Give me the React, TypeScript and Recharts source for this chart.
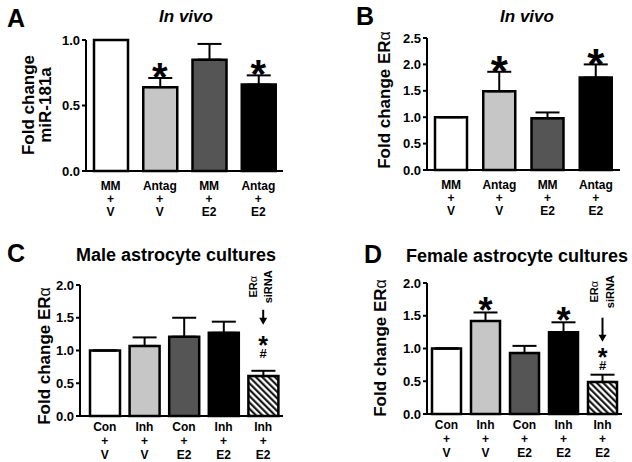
import React from 'react';
import { ComposedChart, Bar, ErrorBar, Scatter, XAxis, YAxis, Cell } from 'recharts';

const FONT = '"Liberation Sans", Arial, sans-serif';

// A: in vivo miR-181a
const groupsA = ['MM', 'Antag', 'MM', 'Antag'];
const treatA = ['V', 'V', 'E2', 'E2'];
const meanA = [1.0, 0.64, 0.85, 0.66];
const semA = [0, 0.07, 0.12, 0.07];
const sigA = ['', '*', '', '*'];
const ticksA = [0, 0.5, 1.0];

// B: in vivo ERa
const groupsB = ['MM', 'Antag', 'MM', 'Antag'];
const treatB = ['V', 'V', 'E2', 'E2'];
const meanB = [1.0, 1.49, 0.98, 1.75];
const semB = [0, 0.37, 0.11, 0.25];
const sigB = ['', '*', '', '*'];
const ticksB = [0, 0.5, 1.0, 1.5, 2.0, 2.5];

// C: male astrocyte cultures
const groupsC = ['Con', 'Inh', 'Con', 'Inh', 'Inh'];
const treatC = ['V', 'V', 'E2', 'E2', 'E2'];
const meanC = [1.0, 1.07, 1.21, 1.27, 0.61];
const semC = [0, 0.13, 0.29, 0.17, 0.08];
const sigC = ['', '', '', '', '*#'];
const ticksC = [0, 0.5, 1.0, 1.5, 2.0];

// D: female astrocyte cultures
const groupsD = ['Con', 'Inh', 'Con', 'Inh', 'Inh'];
const treatD = ['V', 'V', 'E2', 'E2', 'E2'];
const meanD = [1.0, 1.42, 0.93, 1.25, 0.49];
const semD = [0, 0.13, 0.11, 0.15, 0.11];
const sigD = ['', '*', '', '*', '*#'];
const ticksD = [0, 0.5, 1.0, 1.5, 2.0];

const fills = ['#ffffff', '#c6c6c6', '#555555', '#000000', 'url(#hatch)'];

const rowsOf = (groups, treat, mean, sem, sig) =>
  groups.map((g, i) => ({
    key: `${g}|${treat[i]}|${i}`,
    mean: mean[i],
    err: [0, sem[i]],
    top: mean[i] + sem[i],
    sig: sig[i],
  }));

const XTick = ({ x, y, payload, off }) => {
  const [g, t] = String(payload.value).split('|');
  const st = { fontFamily: FONT, fontWeight: 'bold', fontSize: 12, fill: '#000' };
  return (
    <g>
      <text x={x} y={y + off[0]} textAnchor="middle" style={st}>{g}</text>
      <text x={x} y={y + off[1]} textAnchor="middle" style={st}>+</text>
      <text x={x} y={y + off[2]} textAnchor="middle" style={st}>{t}</text>
    </g>
  );
};

const makeMark = (cfg) => (p) => {
  const { cx, cy, payload } = p;
  const s = payload && payload.sig;
  if (!s) return <g />;
  const bold = { fontFamily: FONT, fontWeight: 'bold', fill: '#000' };
  if (s === '*') {
    return (
      <text x={cx} y={cy - cfg.star + 0.575 * cfg.starFs} textAnchor="middle" style={{ ...bold, fontSize: cfg.starFs }}>*</text>
    );
  }
  const tip = cy - cfg.arrowTip;
  const starY = cy - cfg.sStar + 0.575 * 25;
  const hashY = cy - cfg.hash + 4.6;
  return (
    <g>
      <text x={cx} y={starY} textAnchor="middle" style={{ ...bold, fontSize: 25 }}>
        *
        <tspan x={cx} dy={hashY - starY} fontSize={13}>#</tspan>
      </text>
      <line x1={cx} x2={cx} y1={cy - cfg.arrowTop} y2={tip - 5} stroke="#000" strokeWidth={2} />
      <polygon points={`${cx - 4},${tip - 7} ${cx + 4},${tip - 7} ${cx},${tip}`} fill="#000" />
      <text transform={`translate(${cx + cfg.l1},${cy - cfg.textC}) rotate(-90)`} textAnchor="middle" style={{ ...bold, fontSize: 11 }}>
        ER<tspan fontWeight="normal">α</tspan>
      </text>
      <text transform={`translate(${cx + cfg.l2},${cy - cfg.textC}) rotate(-90)`} textAnchor="middle" style={{ ...bold, fontSize: 11 }}>
        siRNA
      </text>
    </g>
  );
};

const Panel = ({ rows, left, top, plot, yMax, ticks, barSize, xOff, pad, mark }) => {
  const W = 316;
  const H = 231;
  const yw = 40;
  const xh = 44;
  const margin = {
    top: plot.y0 - top,
    bottom: top + H - plot.y1 - xh,
    left: plot.x0 - left - yw,
    right: left + W - plot.x1,
  };
  return (
    <div style={{ position: 'absolute', left, top }}>
      <ComposedChart width={W} height={H} data={rows} margin={margin}>
        <XAxis
          dataKey="key"
          axisLine={{ stroke: '#000', strokeWidth: 2 }}
          tickLine={false}
          tickSize={0}
          height={xh}
          interval={0}
          padding={{ left: pad, right: 0 }}
          tick={(p) => <XTick {...p} off={xOff} />}
        />
        <YAxis
          width={yw}
          domain={[0, yMax]}
          ticks={ticks}
          interval={0}
          tickFormatter={(v) => v.toFixed(1)}
          axisLine={{ stroke: '#000', strokeWidth: 2 }}
          tickLine={{ stroke: '#000', strokeWidth: 2 }}
          tickSize={4}
          tickMargin={2}
          tick={{ fill: '#000', fontSize: 13, fontWeight: 'bold', fontFamily: FONT }}
        />
        <Bar dataKey="mean" barSize={barSize} stroke="#000" strokeWidth={2.5} isAnimationActive={false}>
          {rows.map((r, i) => (
            <Cell key={r.key} fill={fills[i]} />
          ))}
          <ErrorBar dataKey="err" width={12} stroke="#000" strokeWidth={2} direction="y" />
        </Bar>
        <Scatter dataKey="top" shape={mark} isAnimationActive={false} />
      </ComposedChart>
    </div>
  );
};

const letter = { fontFamily: FONT, fontWeight: 'bold', fontSize: 25, fill: '#000' };
const title = { fontFamily: FONT, fontWeight: 'bold', fontSize: 18, fill: '#000' };
const ylab = { fontFamily: FONT, fontWeight: 'bold', fontSize: 17, fill: '#000' };

const YLab = ({ x, y, children }) => (
  <text transform={`translate(${x},${y}) rotate(-90)`} textAnchor="middle" style={ylab}>{children}</text>
);

export default function App() {
  const offAB = [16.5, 29.5, 42.5];
  const offCD = [12.5, 26.5, 40.5];
  return (
    <div style={{ position: 'relative', width: 632, height: 462, background: '#fff' }}>
      <style>{'body{margin:0}'}</style>
      <Panel
        rows={rowsOf(groupsA, treatA, meanA, semA, sigA)}
        left={0} top={0}
        plot={{ x0: 86, x1: 283, y0: 40, y1: 171 }}
        yMax={1} ticks={ticksA} barSize={34} xOff={offAB} pad={0}
        mark={makeMark({ star: 10, starFs: 40 })}
      />
      <Panel
        rows={rowsOf(groupsB, treatB, meanB, semB, sigB)}
        left={316} top={0}
        plot={{ x0: 427, x1: 620, y0: 38, y1: 170 }}
        yMax={2.5} ticks={ticksB} barSize={32} xOff={offAB} pad={0}
        mark={makeMark({ star: 10, starFs: 44 })}
      />
      <Panel
        rows={rowsOf(groupsC, treatC, meanC, semC, sigC)}
        left={0} top={231}
        plot={{ x0: 80, x1: 283, y0: 285, y1: 416 }}
        yMax={2} ticks={ticksC} barSize={30} xOff={offCD} pad={5}
        mark={makeMark({ star: 10, starFs: 36, sStar: 31, hash: 17, arrowTop: 61, arrowTip: 46, textC: 84, l1: -6, l2: 9 })}
      />
      <Panel
        rows={rowsOf(groupsD, treatD, meanD, semD, sigD)}
        left={316} top={231}
        plot={{ x0: 427, x1: 622, y0: 283, y1: 414 }}
        yMax={2} ticks={ticksD} barSize={29} xOff={offCD} pad={0}
        mark={makeMark({ star: 10, starFs: 36, sStar: 23, hash: 9, arrowTop: 57, arrowTip: 33, textC: 83, l1: -4.5, l2: 11.5 })}
      />
      <svg width={632} height={462} style={{ position: 'absolute', left: 0, top: 0, pointerEvents: 'none' }}>
        <defs>
          <pattern id="hatch" patternUnits="userSpaceOnUse" width={4.5} height={4.5} patternTransform="rotate(-45)">
            <rect width={4.5} height={4.5} fill="#fff" />
            <line x1={1.2} y1={0} x2={1.2} y2={4.5} stroke="#000" strokeWidth={2} />
          </pattern>
        </defs>
        <text x={7} y={27} style={letter}>A</text>
        <text x={356} y={25} style={letter}>B</text>
        <text x={7} y={262} style={letter}>C</text>
        <text x={364} y={263} style={letter}>D</text>
        <text x={186} y={22} textAnchor="middle" style={{ ...title, fontStyle: 'italic', fontSize: 17 }}>In vivo</text>
        <text x={527} y={22} textAnchor="middle" style={{ ...title, fontStyle: 'italic', fontSize: 17 }}>In vivo</text>
        <text x={176} y={261} textAnchor="middle" style={title}>Male astrocyte cultures</text>
        <text x={517} y={262} textAnchor="middle" style={title}>Female astrocyte cultures</text>
        <YLab x={34} y={105}>Fold change</YLab>
        <YLab x={51} y={105}>miR-181a</YLab>
        <YLab x={390} y={100}>Fold change ER<tspan fontWeight="normal" fontSize={16}>α</tspan></YLab>
        <YLab x={50} y={356}>Fold change ER<tspan fontWeight="normal" fontSize={16}>α</tspan></YLab>
        <YLab x={386} y={348}>Fold change ER<tspan fontWeight="normal" fontSize={16}>α</tspan></YLab>
      </svg>
    </div>
  );
}
